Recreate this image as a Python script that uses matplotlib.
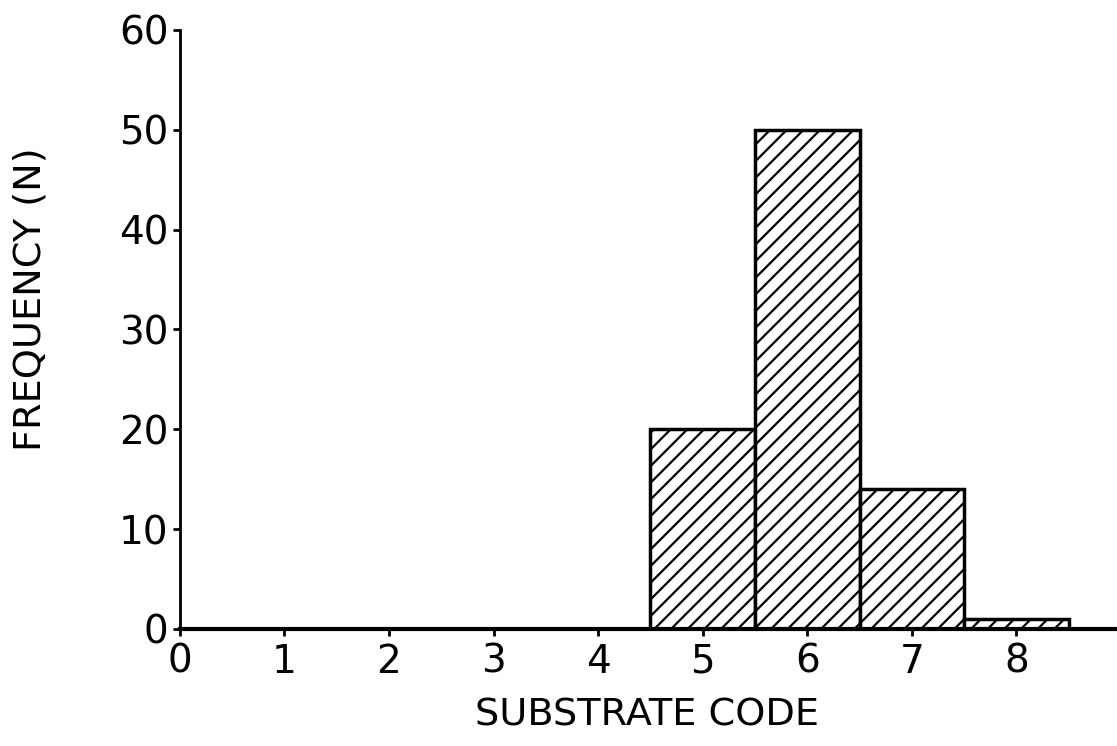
import matplotlib.pyplot as plt
import numpy as np

plt.rcParams['hatch.linewidth'] = 1.6

codes = [5, 6, 7, 8]
freq = [20, 50, 14, 1]
xticks = [0, 1, 2, 3, 4, 5, 6, 7, 8]
yticks = [0, 10, 20, 30, 40, 50, 60]

fig = plt.figure(figsize=(11.17, 7.46), dpi=100)
ax = fig.add_axes([0.161, 0.157, 0.837, 0.803])

ax.bar(codes, freq, width=1.0, color='white', edgecolor='black',
       linewidth=2.5, hatch='//', zorder=2)

ax.set_xlim(0, 8.94)
ax.set_ylim(0, 60)
ax.set_xticks(xticks)
ax.set_yticks(yticks)
ax.spines['top'].set_visible(False)
ax.spines['right'].set_visible(False)
ax.spines['left'].set_linewidth(2)
ax.spines['bottom'].set_linewidth(3)
ax.tick_params(axis='both', labelsize=28, width=2, length=5, direction='out')
ax.tick_params(axis='x', pad=5)
ax.tick_params(axis='y', pad=3)

ax.set_xlabel('SUBSTRATE CODE', fontsize=27.5, labelpad=12)
ax.set_ylabel('FREQUENCY (N)', fontsize=27.5)
ax.yaxis.set_label_coords(-0.14, 0.55)

fig.savefig('out.png', dpi=100)
